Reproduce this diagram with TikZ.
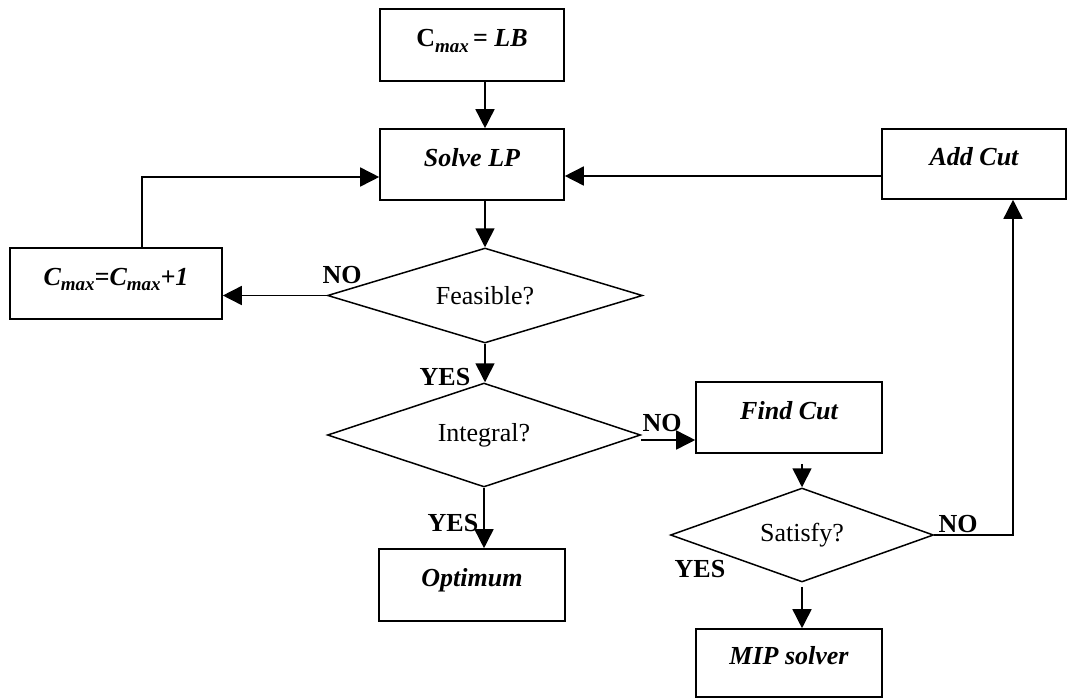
\documentclass[tikz,border=0pt]{standalone}
\usepackage{fontspec}
\setmainfont{Liberation Serif}
\usetikzlibrary{shapes.geometric,arrows.meta,calc}
\begin{document}
\begin{tikzpicture}[x=1pt,y=-1pt,
  txt/.style={font=\fontsize{26}{30}\selectfont},
  box/.style={txt,draw,line width=1.6pt,inner sep=0pt,text height=18pt,text depth=15pt,font=\fontsize{26}{30}\selectfont\bfseries\itshape},
  dia/.style={txt,draw,diamond,line width=1.5pt,inner sep=0pt},
  arr/.style={line width=1.6pt,-{Triangle[length=19pt,width=19pt]}},
  lbl/.style={font=\fontsize{26}{30}\selectfont\bfseries,inner sep=0pt}]
\fill[white] (0,0) rectangle (1067,699);
\useasboundingbox (0,0) rectangle (1067,699);

\node[box,minimum width=184pt,minimum height=72pt] (cmax) at (472,45)
  {\upshape C\raisebox{-0.22em}{\fontsize{19}{20}\selectfont\itshape max}\,= \itshape LB};
\node[box,minimum width=184pt,minimum height=71pt] (slp) at (472,164.5) {Solve LP};
\node[box,minimum width=184pt,minimum height=70pt] (ac) at (974,164) {Add Cut};
\node[box,minimum width=212pt,minimum height=71pt] (cm1) at (116,283.5)
  {C\raisebox{-0.22em}{\fontsize{19}{20}\selectfont max}=C\raisebox{-0.22em}{\fontsize{19}{20}\selectfont max}+1};
\node[dia,shape aspect=3.32,minimum width=315pt,minimum height=95pt] (feas) at (485,295.5) {Feasible?};
\node[dia,shape aspect=3.01,minimum width=313pt,minimum height=104pt] (int) at (484,435) {Integral?};
\node[box,minimum width=186pt,minimum height=71pt] (fc) at (789,417.5) {Find Cut};
\node[dia,shape aspect=2.8,minimum width=263pt,minimum height=94pt] (sat) at (802,535) {Satisfy?};
\node[box,minimum width=186pt,minimum height=72pt] (opt) at (472,585) {Optimum};
\node[box,minimum width=186pt,minimum height=68pt] (mip) at (789,663) {MIP solver};

\draw[arr] ([xshift=13pt]cmax.south) -- ([xshift=13pt]slp.north);
\draw[arr] ([xshift=13pt]slp.south) -- (feas.north);
\draw[arr] (feas.west) -- (feas.west -| cm1.east);
\draw[arr] ([xshift=26pt]cm1.north) |- ([yshift=-12.5pt]slp.west);
\draw[arr] ([yshift=-12pt]ac.west) -- ([yshift=-12pt]ac.west -| slp.east);
\draw[arr] (feas.south) -- (feas.south |- int.north);
\draw[arr] ([yshift=-5pt]int.east) -- ([yshift=-5pt]int.east -| fc.west);
\draw[arr] (int.south) -- (int.south |- opt.north);
\draw[arr,shorten <=10pt] ([xshift=13pt]fc.south) -- (sat.north);
\draw[arr,shorten <=4pt] (sat.south) -- (sat.south |- mip.north);
\draw[arr] (sat.east) -| ([xshift=39pt]ac.south);

\node[lbl] (l1) at (342,275) {NO};
\node[lbl] (l2) at (445,377) {YES};
\node[lbl] (l3) at (662,423) {NO};
\node[lbl] (l4) at (453,523) {YES};
\node[lbl] (l5) at (958,524) {NO};
\node[lbl] (l6) at (700,569) {YES};
\end{tikzpicture}
\end{document}
